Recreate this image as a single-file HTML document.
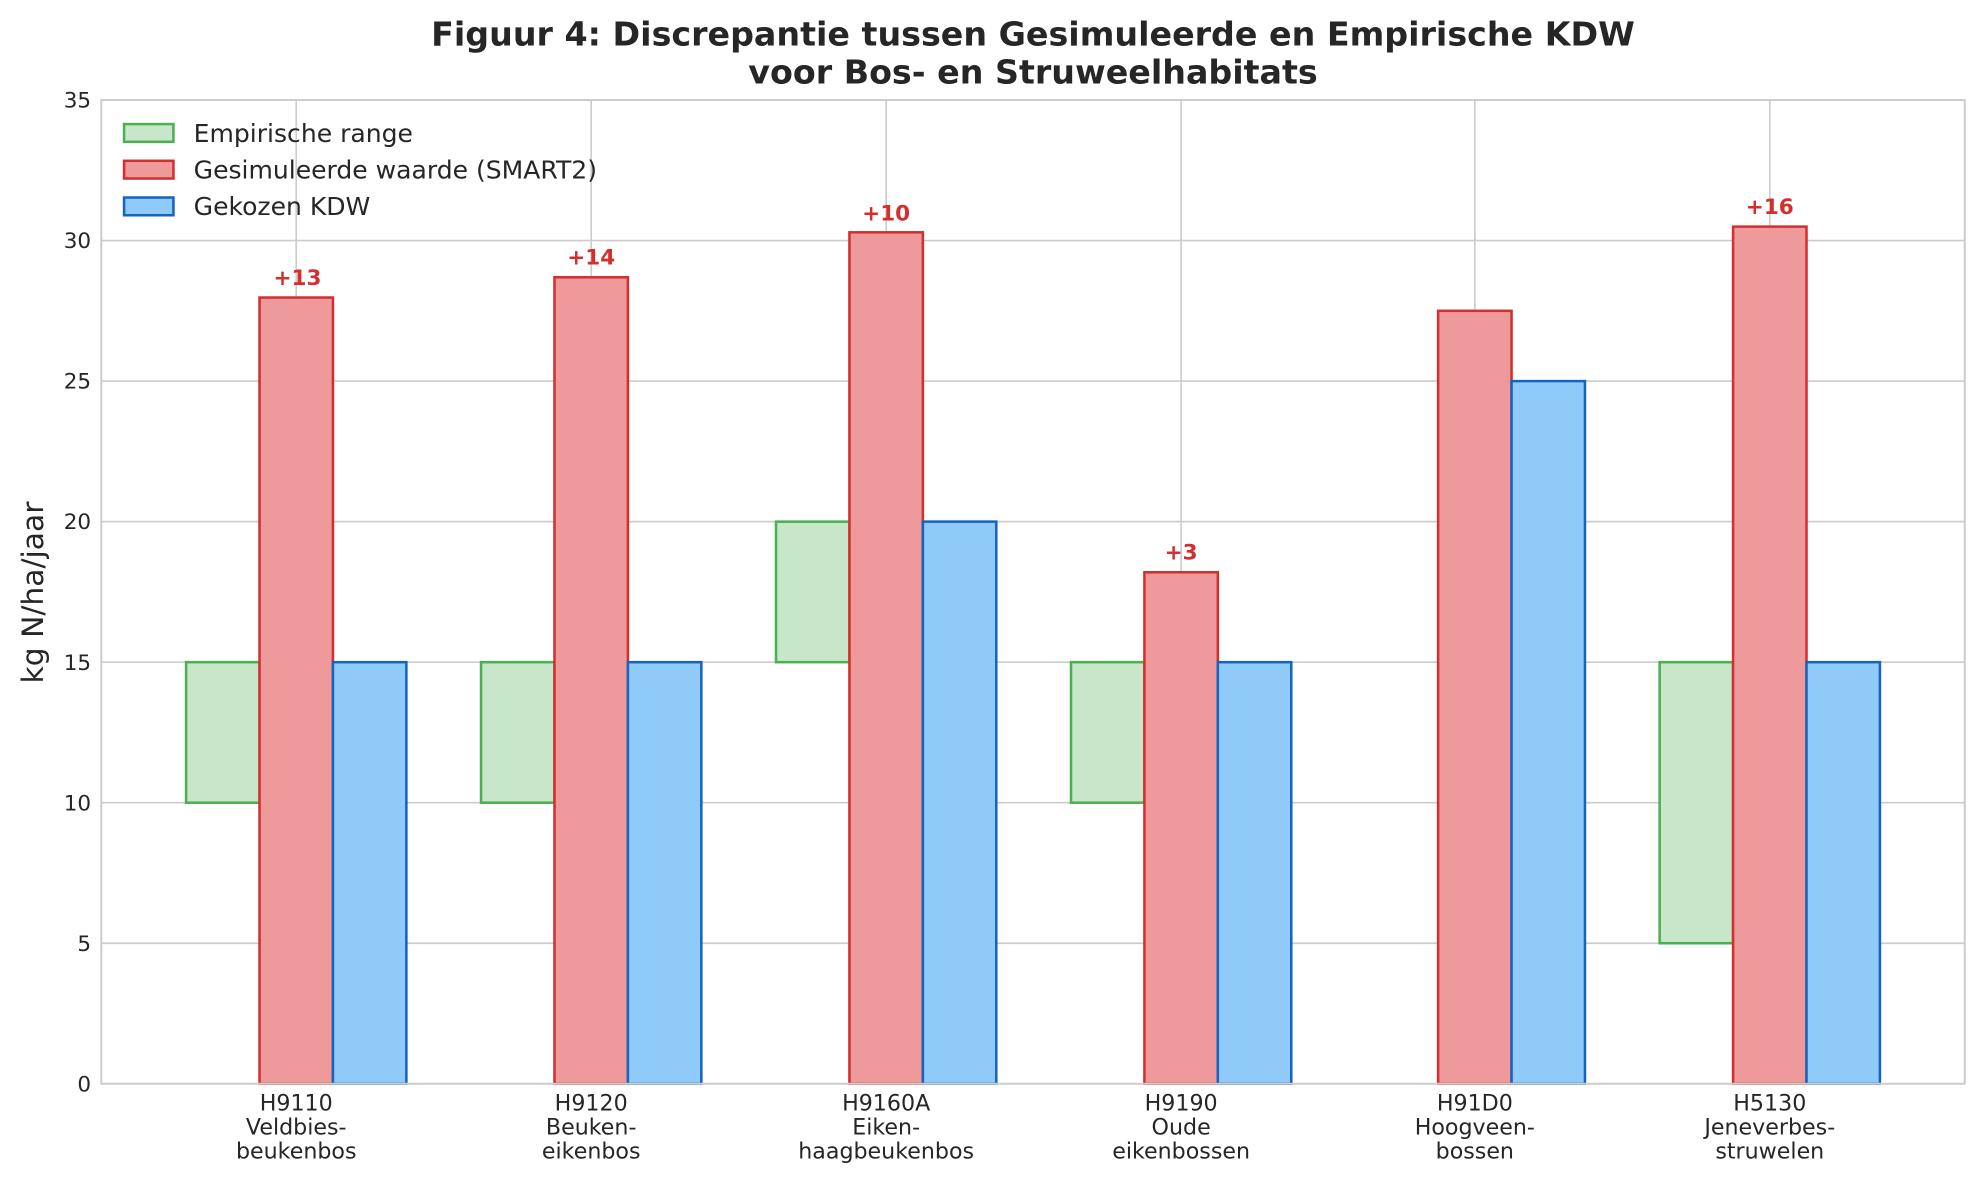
<!DOCTYPE html>
<html><head><meta charset="utf-8"><style>html,body{margin:0;padding:0;background:#fff}svg{display:block}</style></head>
<body>
<svg xmlns="http://www.w3.org/2000/svg" width="1985" height="1180" viewBox="0 0 1568 932" preserveAspectRatio="none" font-family="'DejaVu Sans','Liberation Sans',sans-serif">
<rect width="1568" height="932" fill="#fff"/>
<g stroke="#cccccc" stroke-width="1.3">
<line x1="80" x2="1552" y1="745" y2="745"/><line x1="80" x2="1552" y1="634" y2="634"/>
<line x1="80" x2="1552" y1="523" y2="523"/><line x1="80" x2="1552" y1="412" y2="412"/>
<line x1="80" x2="1552" y1="301" y2="301"/><line x1="80" x2="1552" y1="190" y2="190"/>
<line x1="234" x2="234" y1="79" y2="856"/><line x1="467" x2="467" y1="79" y2="856"/>
<line x1="700" x2="700" y1="79" y2="856"/><line x1="933" x2="933" y1="79" y2="856"/>
<line x1="1165" x2="1165" y1="79" y2="856"/><line x1="1398" x2="1398" y1="79" y2="856"/>
</g>
<g stroke-width="2">
<g fill="#c8e6c9" stroke="#4caf50">
<rect x="147" y="523" width="58" height="111"/><rect x="380" y="523" width="58" height="111"/>
<rect x="613" y="412" width="58" height="111"/><rect x="846" y="523" width="58" height="111"/>
<rect x="1311" y="523" width="58" height="222"/>
</g>
<g fill="#ef9a9a" stroke="#d32f2f">
<rect x="205" y="235" width="58" height="621"/><rect x="438" y="219" width="58" height="637"/>
<rect x="671" y="183.5" width="58" height="672.5"/><rect x="904" y="452" width="58" height="404"/>
<rect x="1136" y="245.5" width="58" height="610.5"/><rect x="1369" y="179" width="58" height="677"/>
</g>
<g fill="#90caf9" stroke="#1565c0">
<rect x="263" y="523" width="58" height="333"/><rect x="496" y="523" width="58" height="333"/>
<rect x="729" y="412" width="58" height="444"/><rect x="962" y="523" width="58" height="333"/>
<rect x="1194" y="301" width="58" height="555"/><rect x="1427" y="523" width="58" height="333"/>
</g>
</g>
<rect x="80" y="79" width="1472" height="777" fill="none" stroke="#cccccc" stroke-width="1.6"/>
<g fill="#d32f2f" font-weight="bold" font-size="17" text-anchor="middle">
<text x="235" y="225">+13</text><text x="467" y="209">+14</text><text x="700" y="174">+10</text>
<text x="933" y="442">+3</text><text x="1398" y="169">+16</text>
</g>
<g fill="#262626" font-size="17" text-anchor="end">
<text x="72" y="862">0</text><text x="72" y="751">5</text><text x="72" y="640">10</text>
<text x="72" y="529">15</text><text x="72" y="418">20</text><text x="72" y="307">25</text>
<text x="72" y="196">30</text><text x="72" y="85">35</text>
</g>
<g fill="#262626" font-size="17.5" text-anchor="middle">
<text x="234" y="877">H9110</text><text x="234" y="896">Veldbies-</text><text x="234" y="915">beukenbos</text>
<text x="467" y="877">H9120</text><text x="467" y="896">Beuken-</text><text x="467" y="915">eikenbos</text>
<text x="700" y="877">H9160A</text><text x="700" y="896">Eiken-</text><text x="700" y="915">haagbeukenbos</text>
<text x="933" y="877">H9190</text><text x="933" y="896">Oude</text><text x="933" y="915">eikenbossen</text>
<text x="1165" y="877">H91D0</text><text x="1165" y="896">Hoogveen-</text><text x="1165" y="915">bossen</text>
<text x="1398" y="877">H5130</text><text x="1398" y="896">Jeneverbes-</text><text x="1398" y="915">struwelen</text>
</g>
<text transform="translate(34,468) rotate(-90)" fill="#262626" font-size="23.5" text-anchor="middle">kg N/ha/jaar</text>
<g fill="#262626" font-size="26.3" font-weight="bold" text-anchor="middle">
<text x="816" y="36">Figuur 4: Discrepantie tussen Gesimuleerde en Empirische KDW</text>
<text x="816" y="66">voor Bos- en Struweelhabitats</text>
</g>
<g stroke-width="2">
<rect x="98" y="98" width="39" height="14" fill="#c8e6c9" stroke="#4caf50"/>
<rect x="98" y="127" width="39" height="14" fill="#ef9a9a" stroke="#d32f2f"/>
<rect x="98" y="156" width="39" height="14" fill="#90caf9" stroke="#1565c0"/>
</g>
<g fill="#262626" font-size="19.8">
<text x="153" y="112">Empirische range</text>
<text x="153" y="141">Gesimuleerde waarde (SMART2)</text>
<text x="153" y="170">Gekozen KDW</text>
</g>
</svg>
</body></html>
